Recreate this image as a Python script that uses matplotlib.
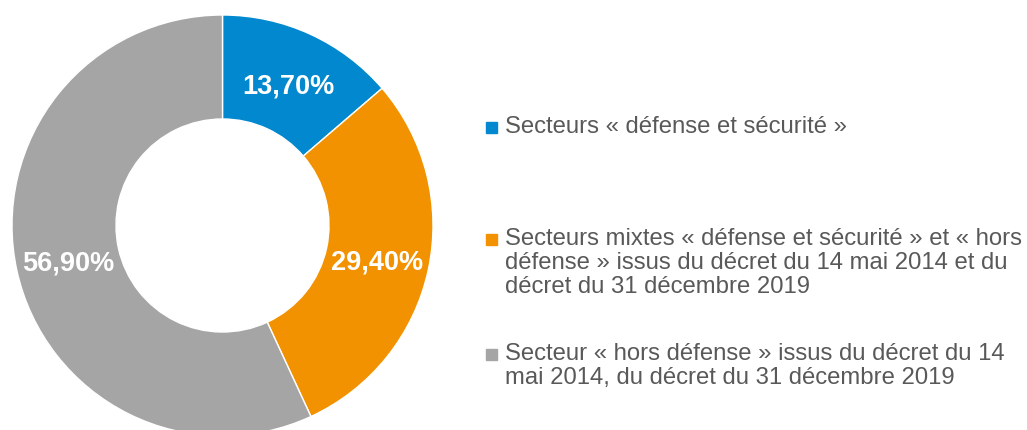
import matplotlib
matplotlib.use("Agg")
import matplotlib.pyplot as plt
from matplotlib.patches import Rectangle

plt.rcParams['font.family'] = ['Liberation Sans', 'DejaVu Sans']

labels = [
    "Secteurs « défense et sécurité »",
    "Secteurs mixtes « défense et sécurité » et « hors\ndéfense » issus du décret du 14 mai 2014 et du\ndécret du 31 décembre 2019",
    "Secteur « hors défense » issus du décret du 14\nmai 2014, du décret du 31 décembre 2019",
]
values = [13.70, 29.40, 56.90]
colors = ["#0288CE", "#F39200", "#A5A5A5"]

W, H = 1027, 431
fig = plt.figure(figsize=(W / 100, H / 100), dpi=100)

# pie: centre about (222, 226) px from top-left, radius about 210 px
ax = fig.add_axes([12 / W, (H - 437) / H, 421 / W, 421 / H])
wedges, texts, autotexts = ax.pie(
    values, colors=colors, startangle=90, counterclock=False,
    wedgeprops=dict(width=0.494, edgecolor="white", linewidth=1),
    autopct=lambda p: f"{p:.2f}%".replace(".", ","), pctdistance=0.75,
    textprops=dict(color="white", fontsize=19.5, fontweight="bold"))
for t in autotexts:
    t.set_va("center_baseline")
ax.set_xlim(-1, 1)
ax.set_ylim(-1, 1)
ax.set_aspect("equal")
ax.axis("off")

# legend drawn by hand, one entry per slice
tops = [116, 228, 343]
for lab, col, top in zip(labels, colors, tops):
    fig.patches.append(Rectangle((486 / W, 1 - (top + 18) / H), 11 / W, 11 / H,
                                 transform=fig.transFigure, color=col))
    fig.text(505 / W, 1 - top / H, lab, fontsize=17.2, color="#595959",
             va="top", ha="left", linespacing=1.12)

fig.savefig("out.png", dpi=100)
